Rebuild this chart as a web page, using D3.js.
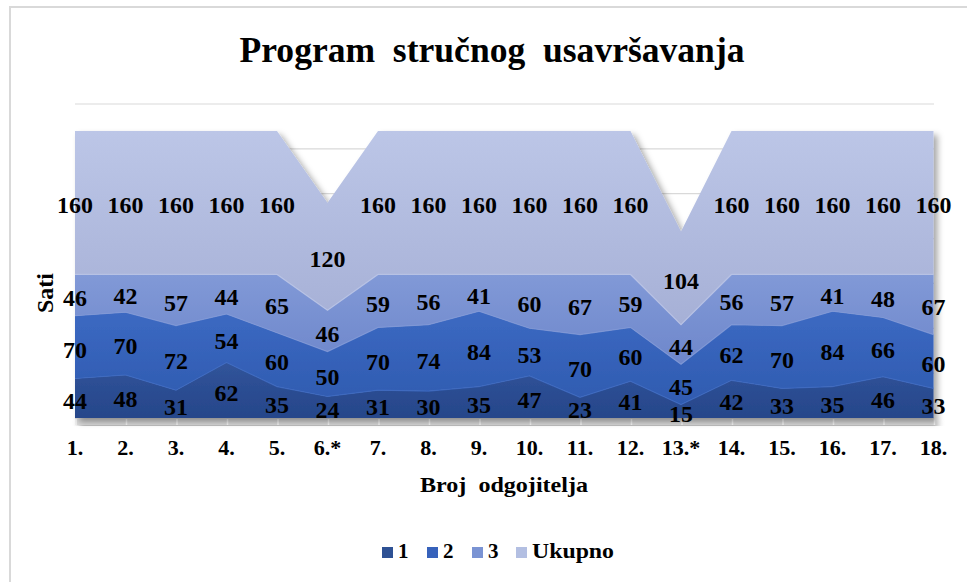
<!DOCTYPE html>
<html>
<head>
<meta charset="utf-8">
<script src="https://cdn.jsdelivr.net/npm/d3@7"></script>
<style>
  html, body { margin: 0; padding: 0; background: #fff; }
  svg text { font-family: "Liberation Serif", serif !important; font-weight: bold; }
</style>
</head>
<body>
<svg id="chart" width="967" height="582"></svg>
<script>
// ---- data ----
const categories = ["1.", "2.", "3.", "4.", "5.", "6.*", "7.", "8.", "9.", "10.", "11.", "12.", "13.*", "14.", "15.", "16.", "17.", "18."];
const series1 = [44, 48, 31, 62, 35, 24, 31, 30, 35, 47, 23, 41, 15, 42, 33, 35, 46, 33];
const series2 = [70, 70, 72, 54, 60, 50, 70, 74, 84, 53, 70, 60, 45, 62, 70, 84, 66, 60];
const series3 = [46, 42, 57, 44, 65, 46, 59, 56, 41, 60, 67, 59, 44, 56, 57, 41, 48, 67];
const ukupno  = [160, 160, 160, 160, 160, 120, 160, 160, 160, 160, 160, 160, 104, 160, 160, 160, 160, 160];
const seriesNames = ["1", "2", "3", "Ukupno"];
const yTicks = [0, 50, 100, 150, 200, 250, 300, 350];
const title = "Program  stručnog  usavršavanja";
const xTitle = "Broj  odgojitelja";
const yTitle = "Sati";

// ---- styles ----
const keys = ["s1", "s2", "s3", "uk"];
const topColors = ["#31549a", "#3c69c2", "#8199d7", "#bcc6e7"];
const botColors = ["#26468a", "#2f5bb0", "#6e87cb", "#a6b0d6"];
const legendColors = ["#2e5194", "#3762bb", "#7a93d3", "#b3bfe2"];
const FONT = "'Liberation Serif', serif";

const rows = categories.map((c, i) => ({ cat: c, s1: series1[i], s2: series2[i], s3: series3[i], uk: ukupno[i] }));

const svg = d3.select("#chart");
const defs = svg.append("defs");

keys.forEach((k, i) => {
  const g = defs.append("linearGradient").attr("id", "grad" + i)
    .attr("x1", 0).attr("y1", 0).attr("x2", 0).attr("y2", 1);
  g.append("stop").attr("offset", "0%").attr("stop-color", topColors[i]);
  g.append("stop").attr("offset", "100%").attr("stop-color", botColors[i]);
});
const f = defs.append("filter").attr("id", "shadow")
  .attr("x", "-5%").attr("y", "-5%").attr("width", "110%").attr("height", "115%");
f.append("feDropShadow").attr("dx", 4).attr("dy", 4).attr("stdDeviation", 3)
  .attr("flood-color", "#000").attr("flood-opacity", 0.35);

// chart border
svg.append("rect").attr("x", 10).attr("y", 7).attr("width", 1000).attr("height", 620)
  .attr("fill", "none").attr("stroke", "#d9d9d9").attr("stroke-width", 2);

const x = d3.scalePoint().domain(categories).range([75, 933.5]);
const y = d3.scaleLinear().domain([0, 350]).range([418, 104]);

// gridlines
svg.append("g").selectAll("line").data(yTicks).join("line")
  .attr("x1", 75).attr("x2", 934)
  .attr("y1", d => y(d)).attr("y2", d => y(d))
  .attr("stroke", "#d9d9d9").attr("stroke-width", 1.2);

// floor
const floor = svg.append("g").attr("filter", "url(#shadow)");
floor.append("rect").attr("x", 75).attr("y", y(0)).attr("width", 859).attr("height", 7).attr("fill", "#d9d9d9");
svg.append("g").selectAll("line").data(categories).join("line")
  .attr("x1", d => x(d) + 1).attr("x2", d => x(d) + 1)
  .attr("y1", y(0) + 1).attr("y2", y(0) + 7)
  .attr("stroke", "#f4f4f4").attr("stroke-width", 1.5);

// stacked areas
const stack = d3.stack().keys(keys);
const layers = stack(rows);
const area = d3.area()
  .x(d => x(d.data.cat))
  .y0(d => y(d[0]))
  .y1(d => y(d[1]));

const ag = svg.append("g").attr("filter", "url(#shadow)");
ag.selectAll("path").data(layers).join("path")
  .attr("d", area)
  .attr("fill", (d, i) => `url(#grad${i})`);

// thin edge lines on layer tops
svg.append("g").selectAll("path").data(layers.slice(0, 3)).join("path")
  .attr("d", d3.line().x(d => x(d.data.cat)).y(d => y(d[1])))
  .attr("fill", "none")
  .attr("stroke", (d, i) => topColors[i + 1])
  .attr("stroke-width", 1.2)
  .attr("opacity", 0.8);

function stretchText(sel, sx) {
  return sel.attr("transform", d => `translate(${d.tx},${d.ty}) scale(${sx},1)`);
}

// data labels
const labelData = [];
layers.forEach((layer) => {
  layer.forEach(pt => {
    const mid = (pt[0] + pt[1]) / 2;
    labelData.push({ text: String(pt[1] - pt[0]), tx: x(pt.data.cat), ty: y(mid) + 3 + 7.8 });
  });
});
stretchText(svg.append("g").selectAll("text").data(labelData).join("text")
  .attr("text-anchor", "middle")
  .attr("font-family", FONT).attr("font-weight", "bold")
  .attr("font-size", 23)
  .attr("fill", "#000")
  .text(d => d.text), 1.04);

// x axis labels
stretchText(svg.append("g").selectAll("text")
  .data(categories.map(c => ({ text: c, tx: x(c), ty: 455 }))).join("text")
  .attr("text-anchor", "middle")
  .attr("font-family", FONT).attr("font-weight", "bold")
  .attr("font-size", 21)
  .attr("fill", "#000")
  .text(d => d.text), 1.05);

// title
svg.append("text").attr("x", 492).attr("y", 62)
  .attr("text-anchor", "middle")
  .attr("font-family", FONT).attr("font-weight", "bold")
  .attr("font-size", 36)
  .style("white-space", "pre")
  .attr("textLength", 505).attr("lengthAdjust", "spacingAndGlyphs")
  .text(title);

// x title
svg.append("text").attr("x", 504).attr("y", 492)
  .attr("text-anchor", "middle")
  .attr("font-family", FONT).attr("font-weight", "bold")
  .attr("font-size", 21)
  .style("white-space", "pre")
  .attr("textLength", 168).attr("lengthAdjust", "spacingAndGlyphs")
  .text(xTitle);

// y title
svg.append("text")
  .attr("transform", "translate(53,293) rotate(-90)")
  .attr("text-anchor", "middle")
  .attr("font-family", FONT).attr("font-weight", "bold")
  .attr("font-size", 23)
  .attr("textLength", 40).attr("lengthAdjust", "spacingAndGlyphs")
  .text(yTitle);

// legend
const legX = [382, 427, 472, 516];
const lg = svg.append("g");
seriesNames.forEach((n, i) => {
  lg.append("rect").attr("x", legX[i]).attr("y", 547).attr("width", 11).attr("height", 11).attr("fill", legendColors[i]);
  const t = lg.append("text").attr("x", legX[i] + 16).attr("y", 558)
    .attr("font-family", FONT).attr("font-weight", "bold")
    .attr("font-size", 21).attr("fill", "#000").text(n);
  if (n === "Ukupno") t.attr("textLength", 82).attr("lengthAdjust", "spacingAndGlyphs");
});
</script>
</body>
</html>
